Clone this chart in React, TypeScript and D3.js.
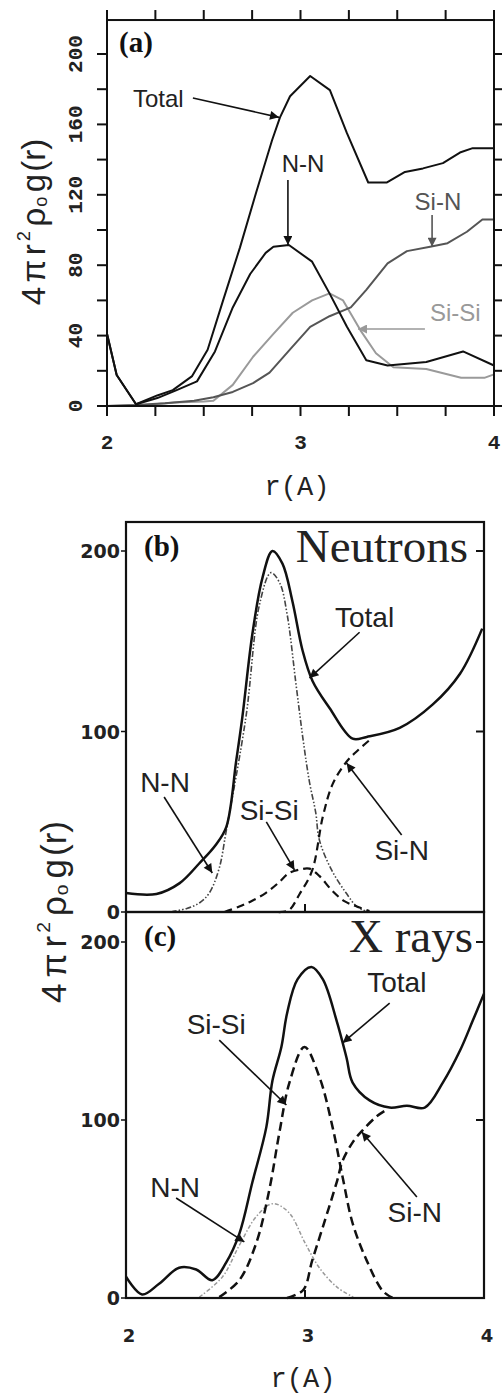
import React, { useEffect, useRef } from "react";
import * as d3 from "d3";

type Pt = [number, number];

// (a) partial contributions, simulation (piecewise linear)
const aTotal: Pt[] = [[2.0, 41], [2.05, 17.6], [2.15, 1], [2.26, 6], [2.34, 9], [2.44, 17], [2.52, 32], [2.6, 60], [2.687, 90], [2.77, 121], [2.853, 151], [2.894, 164], [2.946, 176], [3.05, 187.5], [3.152, 179.5], [3.24, 155], [3.35, 127], [3.447, 127], [3.54, 133], [3.633, 135], [3.736, 138], [3.824, 144], [3.89, 146.5], [4.0, 146.5]];
const aNN: Pt[] = [[2.0, 41], [2.05, 17.6], [2.15, 1], [2.26, 4.5], [2.36, 9], [2.465, 14], [2.558, 31], [2.65, 56], [2.74, 75], [2.82, 87], [2.86, 90.5], [2.94, 91.5], [3.06, 82], [3.15, 64], [3.24, 45], [3.34, 26], [3.45, 23], [3.65, 25], [3.84, 31], [4.0, 23]];
const aSiN: Pt[] = [[2.0, 0], [2.15, 0.5], [2.3, 1.5], [2.45, 3], [2.55, 5], [2.65, 8], [2.755, 13], [2.84, 19], [2.945, 32], [3.05, 45], [3.15, 51], [3.26, 56], [3.34, 66], [3.45, 81], [3.55, 88], [3.67, 90.5], [3.76, 92.5], [3.86, 99], [3.94, 106], [4.0, 106]];
const aSiSi: Pt[] = [[2.0, 0], [2.2, 0.5], [2.35, 2], [2.5, 2.5], [2.55, 3], [2.65, 12], [2.755, 28], [2.86, 41], [2.96, 53], [3.06, 60], [3.15, 64], [3.22, 60], [3.31, 43], [3.39, 30], [3.48, 22], [3.65, 21], [3.83, 16], [3.95, 16], [4.0, 18]];

// (b) neutrons
const bTotal: Pt[] = [[2.0, 10.5], [2.17, 10], [2.3, 16], [2.41, 27], [2.5, 37], [2.56, 47], [2.616, 84], [2.65, 108], [2.706, 154], [2.762, 185], [2.818, 200], [2.874, 193], [2.93, 172], [2.986, 145], [3.042, 128], [3.137, 113], [3.266, 96], [3.345, 97], [3.529, 102], [3.714, 115], [3.866, 132], [3.99, 157]];
const bNN: Pt[] = [[2.25, 0], [2.34, 2], [2.41, 5], [2.465, 10.5], [2.52, 24], [2.56, 45], [2.67, 108], [2.745, 170], [2.81, 188], [2.86, 182], [2.9, 165], [2.95, 126], [2.99, 95], [3.025, 72], [3.06, 55], [3.08, 40], [3.15, 23], [3.23, 10.5], [3.29, 3], [3.35, 0]];
const bSiSi: Pt[] = [[2.55, 0], [2.633, 3], [2.7, 6], [2.78, 10.5], [2.85, 16], [2.91, 21.5], [2.97, 23.5], [3.025, 24], [3.08, 20], [3.15, 12], [3.22, 6], [3.29, 3], [3.36, 0.5]];
const bSiN: Pt[] = [[2.85, 0], [2.91, 1], [2.97, 10], [3.04, 23], [3.1, 53], [3.155, 71], [3.23, 83], [3.3, 90], [3.37, 96]];

// (c) X rays
const cTotal: Pt[] = [[2.0, 12], [2.09, 2], [2.185, 8], [2.297, 17], [2.392, 16], [2.482, 10], [2.56, 20], [2.633, 36], [2.706, 65], [2.784, 96], [2.818, 122], [2.868, 141], [2.9, 160], [2.958, 179], [3.036, 186], [3.1, 179], [3.176, 156], [3.232, 135], [3.266, 121], [3.361, 111], [3.473, 107], [3.569, 108], [3.669, 107], [3.77, 121], [3.866, 139], [3.938, 156], [4.0, 171]];
const cSiSi: Pt[] = [[2.521, 0.5], [2.633, 10], [2.728, 31], [2.801, 61], [2.857, 93], [2.913, 121], [2.997, 141], [3.081, 124], [3.154, 96], [3.21, 68], [3.266, 42], [3.345, 21], [3.434, 4], [3.49, 0]];
const cNN: Pt[] = [[2.41, 0.5], [2.54, 12], [2.63, 29], [2.73, 46], [2.82, 53], [2.91, 48], [3.0, 31], [3.08, 17], [3.18, 6], [3.27, 0.5]];
const cSiN: Pt[] = [[2.9, 0], [2.99, 4.5], [3.04, 21], [3.1, 40], [3.18, 66], [3.21, 77], [3.27, 88], [3.32, 94], [3.4, 102], [3.46, 106]];

const rTicksA = [2, 2.25, 2.5, 2.75, 3, 3.25, 3.5, 3.75, 4];
const vTicksA = [0, 20, 40, 60, 80, 100, 120, 140, 160, 180, 200];
const vLabelsA = [0, 40, 80, 120, 160, 200];
const vLabelsBC = [0, 100, 200];
const rLabels = [2, 3, 4];

// label text, label pos (r, v), arrow from (r, v) to (r, v)
type Note = { t: string; r: number; v: number; from: Pt; to: Pt; color: string; anchor?: string };
const notesA: Note[] = [
  { t: "Total", r: 2.134, v: 175, from: [2.444, 175], to: [2.889, 164], color: "#111", anchor: "start" },
  { t: "N-N", r: 3.013, v: 138, from: [2.935, 128.4], to: [2.935, 91.5], color: "#111" },
  { t: "Si-N", r: 3.71, v: 116, from: [3.68, 108.5], to: [3.68, 90.5], color: "#555" },
  { t: "Si-Si", r: 3.8, v: 53.4, from: [3.643, 43.75], to: [3.297, 43.75], color: "#999" },
];
const notesB: Note[] = [
  { t: "Total", r: 3.333, v: 163.4, from: [3.305, 155], to: [3.025, 129.6], color: "#111" },
  { t: "N-N", r: 2.218, v: 71.5, from: [2.213, 63.7], to: [2.482, 21.6], color: "#111" },
  { t: "Si-Si", r: 2.8, v: 56.5, from: [2.784, 49.9], to: [2.941, 23.3], color: "#111" },
  { t: "Si-N", r: 3.54, v: 34.3, from: [3.54, 42.7], to: [3.232, 82.5], color: "#111" },
];
const notesC: Note[] = [
  { t: "Total", r: 3.513, v: 177, from: [3.473, 165.7], to: [3.21, 143.3], color: "#111" },
  { t: "Si-Si", r: 2.504, v: 153.4, from: [2.521, 144.9], to: [2.896, 108.4], color: "#111" },
  { t: "N-N", r: 2.275, v: 61.8, from: [2.28, 56.2], to: [2.661, 31.5], color: "#111" },
  { t: "Si-N", r: 3.613, v: 47.8, from: [3.625, 56.7], to: [3.317, 93.3], color: "#111" },
];

const W = 502;
const H = 1397;

const App = () => {
  const ref = useRef<SVGSVGElement>(null);

  useEffect(() => {
    const svg = d3.select(ref.current);
    svg.selectAll("*").remove();

    const defs = svg.append("defs");
    ["#111", "#555", "#999"].forEach((c, i) => {
      defs
        .append("marker")
        .attr("id", "arr" + i)
        .attr("viewBox", "0 0 10 10")
        .attr("refX", 10)
        .attr("refY", 5)
        .attr("markerUnits", "userSpaceOnUse")
        .attr("markerWidth", 11)
        .attr("markerHeight", 9)
        .attr("orient", "auto")
        .append("path")
        .attr("d", "M0,0L10,5L0,10Z")
        .attr("fill", c);
    });
    const markerOf = (c: string) => (c === "#555" ? "url(#arr1)" : c === "#999" ? "url(#arr2)" : "url(#arr0)");

    const sans = "'Liberation Sans', Arial, sans-serif";
    const serif = "'Liberation Serif', 'Times New Roman', serif";
    const mono = "'Liberation Mono', 'Courier New', monospace";

    const notes = (g: any, list: Note[], x: any, y: any, size: number) => {
      list.forEach((n) => {
        g.append("line")
          .attr("x1", x(n.from[0]))
          .attr("y1", y(n.from[1]))
          .attr("x2", x(n.to[0]))
          .attr("y2", y(n.to[1]))
          .attr("stroke", n.color)
          .attr("stroke-width", 1.6)
          .attr("marker-end", markerOf(n.color));
        g.append("text")
          .attr("x", x(n.r))
          .attr("y", y(n.v))
          .attr("text-anchor", n.anchor || "middle")
          .attr("dominant-baseline", "central")
          .attr("font-family", sans)
          .attr("font-size", size)
          .attr("fill", n.color === "#111" ? "#222" : n.color)
          .text(n.t);
      });
    };

    const yTitle = (cx: number, cy: number, size: number, sp: number) => {
      const t = svg
        .append("text")
        .attr("transform", `translate(${cx},${cy}) rotate(-90)`)
        .attr("text-anchor", "middle")
        .attr("font-family", sans)
        .attr("font-size", size)
        .attr("fill", "#222");
      t.append("tspan").text("4");
      t.append("tspan").attr("dx", sp).text("π");
      t.append("tspan").attr("dx", sp).text("r");
      t.append("tspan").attr("dx", 3).attr("dy", -size * 0.45).attr("font-size", size * 0.55).text("2");
      t.append("tspan").attr("dx", sp).attr("dy", size * 0.45).text("ρ");
      t.append("tspan").attr("dx", 1).attr("dy", size * 0.05).attr("font-size", size * 0.55).text("o");
      t.append("tspan").attr("dx", sp).attr("dy", -size * 0.05).text("g");
      t.append("tspan").attr("dx", sp * 0.5).text("(r)");
    };

    // ---------- panel (a) ----------
    const xA = d3.scaleLinear().domain([2, 4]).range([107, 494]);
    const yA = d3.scaleLinear().domain([0, 200]).range([406, 54]);
    const gA = svg.append("g");
    const topA = yA(219.3);

    const lineA = d3
      .line<Pt>()
      .x((d) => xA(d[0]))
      .y((d) => yA(d[1]));

    [
      { d: aSiSi, c: "#9a9a9a" },
      { d: aSiN, c: "#555" },
      { d: aNN, c: "#111" },
      { d: aTotal, c: "#111" },
    ].forEach((s) => {
      gA.append("path").attr("d", lineA(s.d)).attr("fill", "none").attr("stroke", s.c).attr("stroke-width", 2).attr("stroke-linejoin", "round");
    });

    gA.append("rect")
      .attr("x", xA(2))
      .attr("y", topA)
      .attr("width", xA(4) - xA(2))
      .attr("height", yA(0) - topA)
      .attr("fill", "none")
      .attr("stroke", "#111")
      .attr("stroke-width", 2);

    rTicksA.forEach((r) => {
      gA.append("line").attr("x1", xA(r)).attr("x2", xA(r)).attr("y1", topA - 10).attr("y2", topA).attr("stroke", "#111").attr("stroke-width", 2);
      gA.append("line").attr("x1", xA(r)).attr("x2", xA(r)).attr("y1", yA(0)).attr("y2", yA(0) + 10).attr("stroke", "#111").attr("stroke-width", 2);
    });
    vTicksA.forEach((v) => {
      gA.append("line").attr("x1", xA(2) - 10).attr("x2", xA(2)).attr("y1", yA(v)).attr("y2", yA(v)).attr("stroke", "#111").attr("stroke-width", 2);
      gA.append("line").attr("x1", xA(4)).attr("x2", xA(4) + 10).attr("y1", yA(v)).attr("y2", yA(v)).attr("stroke", "#111").attr("stroke-width", 2);
    });
    vLabelsA.forEach((v) => {
      gA.append("text")
        .attr("transform", `translate(76,${yA(v)}) rotate(-90)`)
        .attr("text-anchor", "middle")
        .attr("dominant-baseline", "central")
        .attr("font-family", mono)
        .attr("font-weight", "bold")
        .attr("font-size", 21)
        .attr("fill", "#222")
        .text(v);
    });
    rLabels.forEach((r) => {
      gA.append("text")
        .attr("x", xA(r))
        .attr("y", 443)
        .attr("text-anchor", "middle")
        .attr("dominant-baseline", "central")
        .attr("font-family", mono)
        .attr("font-weight", "bold")
        .attr("font-size", 21)
        .attr("fill", "#222")
        .text(r);
    });
    gA.append("text").attr("x", 297).attr("y", 495).attr("text-anchor", "middle").attr("font-family", mono).attr("font-size", 27).attr("fill", "#222").text("r(A)");
    gA.append("text").attr("x", 119).attr("y", 52).attr("font-family", serif).attr("font-weight", "bold").attr("font-size", 29).attr("fill", "#111").text("(a)");
    notes(gA, notesA, xA, yA, 24);
    yTitle(45, 222, 33, 4.5);

    // ---------- panels (b) and (c) ----------
    const xB = d3.scaleLinear().domain([2, 4]).range([126, 484]);
    const yB = d3.scaleLinear().domain([0, 200]).range([912, 551]);
    const yC = d3.scaleLinear().domain([0, 200]).range([1298, 942]);
    const topB = 522;

    const panel = (y: any, top: number, parts: { d: Pt[]; dash: string | null; w: number; c: string }[], list: Note[], title: string, tag: string, tagY: number, titleRight: number) => {
      const g = svg.append("g");
      const line = d3
        .line<Pt>()
        .x((d) => xB(d[0]))
        .y((d) => y(d[1]))
        .curve(d3.curveCatmullRom.alpha(0.5));
      parts.forEach((s) => {
        g.append("path")
          .attr("d", line(s.d))
          .attr("fill", "none")
          .attr("stroke", s.c)
          .attr("stroke-width", s.w)
          .attr("stroke-dasharray", s.dash)
          .attr("stroke-linejoin", "round");
      });
      g.append("rect")
        .attr("x", xB(2))
        .attr("y", top)
        .attr("width", xB(4) - xB(2))
        .attr("height", y(0) - top)
        .attr("fill", "none")
        .attr("stroke", "#111")
        .attr("stroke-width", 2.2);
      vLabelsBC.forEach((v) => {
        if (v > 0) {
          g.append("line").attr("x1", xB(4) - 8).attr("x2", xB(4)).attr("y1", y(v)).attr("y2", y(v)).attr("stroke", "#111").attr("stroke-width", 2);
        }
        g.append("line").attr("x1", xB(2) - 5).attr("x2", xB(2)).attr("y1", y(v)).attr("y2", y(v)).attr("stroke", "#111").attr("stroke-width", 1.5);
        g.append("text")
          .attr("x", xB(2) - 6)
          .attr("y", y(v))
          .attr("text-anchor", "end")
          .attr("dominant-baseline", "central")
          .attr("font-family", "'DejaVu Sans', sans-serif")
          .attr("font-weight", "bold")
          .attr("font-size", 19)
          .attr("fill", "#222")
          .text(v);
      });
      g.append("line").attr("x1", xB(3)).attr("x2", xB(3)).attr("y1", y(0) - 8).attr("y2", y(0)).attr("stroke", "#111").attr("stroke-width", 2);
      g.append("text").attr("x", titleRight).attr("y", tagY).attr("text-anchor", "end").attr("font-family", serif).attr("font-size", 47).attr("fill", "#222").text(title);
      g.append("text").attr("x", 144).attr("y", tagY - 6).attr("font-family", serif).attr("font-weight", "bold").attr("font-size", 29).attr("fill", "#111").text(tag);
      notes(g, list, xB, y, 28);
    };

    panel(
      yB,
      topB,
      [
        { d: bNN, dash: "6,2,1.5,2,1.5,2", w: 1.6, c: "#444" },
        { d: bSiSi, dash: "8,5", w: 2.2, c: "#111" },
        { d: bSiN, dash: "8,5", w: 2.2, c: "#111" },
        { d: bTotal, dash: null, w: 2.5, c: "#111" },
      ],
      notesB,
      "Neutrons",
      "(b)",
      562,
      468
    );
    panel(
      yC,
      yB(0),
      [
        { d: cNN, dash: "4,2,1.5,2", w: 1.5, c: "#999" },
        { d: cSiSi, dash: "9,5", w: 2.5, c: "#111" },
        { d: cSiN, dash: "9,5", w: 2.5, c: "#111" },
        { d: cTotal, dash: null, w: 2.5, c: "#111" },
      ],
      notesC,
      "X rays",
      "(c)",
      952,
      473
    );

    rLabels.forEach((r) => {
      svg
        .append("text")
        .attr("x", xB(r) + 3)
        .attr("y", 1335)
        .attr("text-anchor", "middle")
        .attr("dominant-baseline", "central")
        .attr("font-family", "'DejaVu Sans', sans-serif")
        .attr("font-weight", "bold")
        .attr("font-size", 18)
        .attr("fill", "#222")
        .text(r);
    });
    svg.append("text").attr("x", 303).attr("y", 1387).attr("text-anchor", "middle").attr("font-family", mono).attr("font-size", 27).attr("fill", "#222").text("r(A)");
    yTitle(66, 912, 35, 6);
  }, []);

  return <svg ref={ref} width={W} height={H} style={{ position: "absolute", left: 0, top: 0, background: "#fff" }}></svg>;
};

export default App;
